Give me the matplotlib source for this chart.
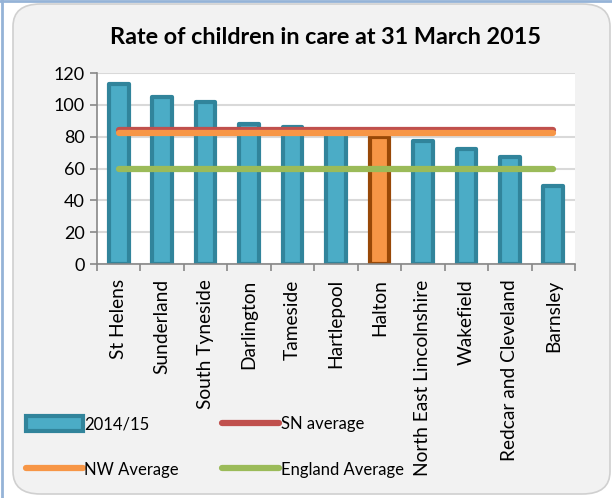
import matplotlib.pyplot as plt
from matplotlib.patches import FancyBboxPatch, Rectangle
from matplotlib.lines import Line2D
import numpy as np

plt.rcParams['font.family'] = ['Lato', 'DejaVu Sans']

# Данные
areas = ['St Helens', 'Sunderland', 'South Tyneside', 'Darlington', 'Tameside',
         'Hartlepool', 'Halton', 'North East Lincolnshire', 'Wakefield',
         'Redcar and Cleveland', 'Barnsley']
rate_2014_15 = [113, 105, 102, 88, 86, 82, 80, 77, 72, 67, 49]
sn_average = 84
nw_average = 82
england_average = 60
highlight = 'Halton'

fig = plt.figure(figsize=(6.12, 4.98), dpi=100)
fig.patch.set_facecolor('white')

# Фон диаграммы со скруглёнными углами
bg = FancyBboxPatch((13 / 612, 4 / 498), 597 / 612, 490 / 498,
                    boxstyle='round,pad=0,rounding_size=0.045',
                    transform=fig.transFigure, facecolor='#f2f2f2',
                    edgecolor='#d0d0d0', linewidth=1.2, zorder=-1)
fig.patches.append(bg)
fig.add_artist(Line2D([1.5 / 612, 1.5 / 612], [0, 1], color='#95b3d7', lw=2,
                      transform=fig.transFigure))
fig.add_artist(Line2D([0, 1], [1 - 1.5 / 498, 1 - 1.5 / 498], color='#95b3d7', lw=2,
                      transform=fig.transFigure))

ax = fig.add_axes([97 / 612, 1 - 264 / 498, 478 / 612, 191 / 498])
ax.set_zorder(2)
ax.set_facecolor('white')

x = np.arange(len(areas))
faces = ['#f79646' if a == highlight else '#4bacc6' for a in areas]
edges = ['#984807' if a == highlight else '#31849b' for a in areas]
bars = ax.bar(x, rate_2014_15, width=0.45, color=faces, edgecolor=edges,
              linewidth=3, joinstyle='round', zorder=2)

# Средние значения — линии от первой до последней категории
ax.plot([x[0], x[-1]], [sn_average] * 2, color='#c0504d', lw=4.5,
        solid_capstyle='round', zorder=3)
ax.plot([x[0], x[-1]], [nw_average] * 2, color='#f79646', lw=4.5,
        solid_capstyle='round', zorder=3)
ax.plot([x[0], x[-1]], [england_average] * 2, color='#9bbb59', lw=4.5,
        solid_capstyle='round', zorder=3)

ax.set_xlim(-0.5, len(areas) - 0.5)
ax.set_ylim(0, 120)
ax.set_yticks(range(0, 121, 20))
ax.yaxis.grid(True, color='#d9d9d9', lw=1.5)
ax.set_axisbelow(True)

ax.set_xticks(x)
ax.set_xticklabels(areas, rotation=90, fontsize=13.8)
ax.set_xticks(np.arange(-0.5, len(areas)), minor=True)
ax.tick_params(axis='x', which='major', length=0, pad=11)
ax.tick_params(axis='x', which='minor', length=5, color='#888888', width=1.2)
ax.tick_params(axis='y', length=5, color='#888888', width=1.2, labelsize=13, pad=4)

for side in ['top', 'right']:
    ax.spines[side].set_visible(False)
ax.spines['left'].set_color('#888888')
ax.spines['bottom'].set_color('#888888')
ax.spines['left'].set_linewidth(1.2)
ax.spines['bottom'].set_linewidth(1.2)

fig.text(325 / 612, 1 - 37 / 498, 'Rate of children in care at 31 March 2015',
         ha='center', va='center', fontsize=16.8, fontweight='bold')

# Легенда
handles = [
    Rectangle((0, 0), 1, 1, facecolor='#4bacc6', edgecolor='#31849b', lw=3),
    Line2D([], [], color='#f79646', lw=4.5, solid_capstyle='round'),
    Line2D([], [], color='#c0504d', lw=4.5, solid_capstyle='round'),
    Line2D([], [], color='#9bbb59', lw=4.5, solid_capstyle='round'),
]
labels = ['2014/15', 'NW Average', 'SN average', 'England Average']
fig.legend(handles, labels, loc='upper left', bbox_to_anchor=(11 / 612, 1 - 401 / 498),
           ncol=2, frameon=False, fontsize=12, handlelength=3.4, handleheight=1.0,
           handletextpad=0.1, labelspacing=1.75, columnspacing=2.6)

fig.savefig('out.png', dpi=100, facecolor=fig.get_facecolor())
